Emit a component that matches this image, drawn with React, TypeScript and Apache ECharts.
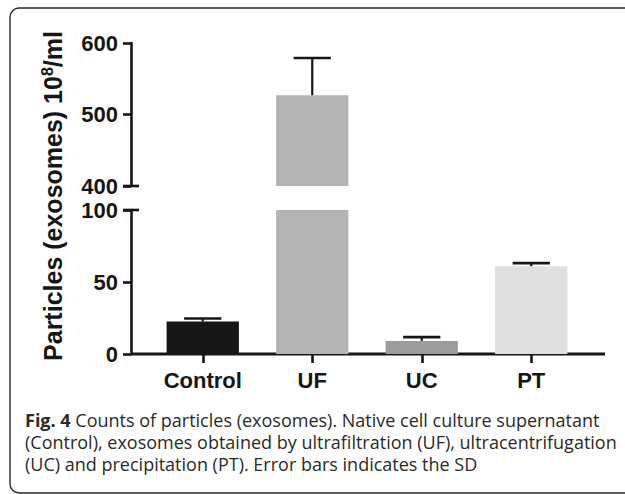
import { useEffect, useRef } from 'react';
import * as echarts from 'echarts';

// ---- data ----
const categories = ['Control', 'UF', 'UC', 'PT'];
const means = [22.6, 527, 9.1, 61];
const sds = [2.1, 52, 2.6, 2.1];
const barColors = ['#161616', '#b4b4b4', '#9b9b9b', '#dfdfdf'];
const upperRange = [400, 600];
const upperInterval = 100;
const lowerRange = [0, 100];
const lowerInterval = 50;
const yTitleMain = 'Particles (exosomes) 10';
const yTitleSup = '8';
const yTitleTail = '/ml';
const captionBold = 'Fig. 4';
const captionLine1 = ' Counts of particles (exosomes). Native cell culture supernatant';
const captionLine2 = '(Control), exosomes obtained by ultrafiltration (UF), ultracentrifugation';
const captionLine3 = '(UC) and precipitation (PT). Error bars indicates the SD';

// ---- layout ----
const W = 625;
const H = 494;
const GRID_LEFT = 148;
const GRID_W = 438;
const UP_TOP = 43;
const UP_H = 143;
const LO_TOP = 210;
const LO_H = 144;
const AXIS_X = 131;
const INK = '#161616';
const FONT = 'Liberation Sans';

export default function App() {
  const ref = useRef<HTMLDivElement>(null);
  useEffect(() => {
    if (!ref.current) return;
    const chart = echarts.init(ref.current, undefined, { renderer: 'svg' });

    const upperIdx = means.map((m) => m > lowerRange[1]);
    const upperBars = means.map((m, i) => (upperIdx[i] ? m : '-'));
    const lowerBars = means.slice();
    const errUpper = means
      .map((m, i) => [i, m, m + sds[i]])
      .filter((_, i) => upperIdx[i]);
    const errLower = means
      .map((m, i) => [i, m, m + sds[i]])
      .filter((_, i) => !upperIdx[i]);

    const renderErr = (params: any, api: any) => {
      const x = api.value(0);
      const p0 = api.coord([x, api.value(1)]);
      const p1 = api.coord([x, api.value(2)]);
      const band = api.size([1, 0])[0];
      const half = band * 0.17;
      return {
        type: 'group',
        children: [
          {
            type: 'line',
            shape: { x1: p0[0], y1: p0[1], x2: p1[0], y2: p1[1] },
            style: { stroke: INK, lineWidth: 2.2 },
          },
          {
            type: 'line',
            shape: { x1: p1[0] - half, y1: p1[1], x2: p1[0] + half, y2: p1[1] },
            style: { stroke: INK, lineWidth: 2.6 },
          },
        ],
      };
    };

    const yAxisCommon = {
      type: 'value',
      offset: GRID_LEFT - AXIS_X,
      splitLine: { show: false },
      axisLine: { show: true, lineStyle: { color: INK, width: 2.6 } },
      axisTick: { show: true, length: 8, lineStyle: { color: INK, width: 2.6 } },
      axisLabel: {
        margin: 13,
        color: INK,
        fontFamily: FONT,
        fontWeight: 'bold',
        fontSize: 22,
      },
    };

    const upTickY = UP_TOP + UP_H;
    const loTickY = LO_TOP;

    chart.setOption({
      animation: false,
      grid: [
        { left: GRID_LEFT, top: UP_TOP, width: GRID_W, height: UP_H },
        { left: GRID_LEFT, top: LO_TOP, width: GRID_W, height: LO_H },
      ],
      xAxis: [
        { type: 'category', gridIndex: 0, data: categories, show: false },
        {
          type: 'category',
          gridIndex: 1,
          data: categories,
          axisLine: { show: false },
          axisTick: {
            show: true,
            alignWithLabel: true,
            length: 9,
            lineStyle: { color: INK, width: 2.6 },
          },
          axisLabel: {
            margin: 15,
            color: INK,
            fontFamily: FONT,
            fontWeight: 'bold',
            fontSize: 22,
          },
        },
      ],
      yAxis: [
        { ...yAxisCommon, gridIndex: 0, min: upperRange[0], max: upperRange[1], interval: upperInterval },
        { ...yAxisCommon, gridIndex: 1, min: lowerRange[0], max: lowerRange[1], interval: lowerInterval },
      ],
      series: [
        {
          type: 'bar',
          xAxisIndex: 0,
          yAxisIndex: 0,
          data: upperBars.map((v, i) => ({ value: v, itemStyle: { color: barColors[i] } })),
          barWidth: '66%',
          clip: true,
        },
        {
          type: 'bar',
          xAxisIndex: 1,
          yAxisIndex: 1,
          data: lowerBars.map((v, i) => ({ value: v, itemStyle: { color: barColors[i] } })),
          barWidth: '66%',
          clip: true,
        },
        {
          type: 'custom',
          xAxisIndex: 0,
          yAxisIndex: 0,
          data: errUpper,
          renderItem: renderErr,
          z: 5,
        },
        {
          type: 'custom',
          xAxisIndex: 1,
          yAxisIndex: 1,
          data: errLower,
          renderItem: renderErr,
          z: 5,
        },
      ],
      graphic: [
        {
          type: 'rect',
          shape: { x: 10, y: 8, width: 700, height: 485, r: 9 },
          style: { fill: 'none', stroke: '#2a2a2a', lineWidth: 1.4 },
          silent: true,
        },
        {
          type: 'line',
          shape: { x1: AXIS_X, y1: LO_TOP + LO_H, x2: 605, y2: LO_TOP + LO_H },
          style: { stroke: INK, lineWidth: 3 },
        },
        {
          type: 'line',
          shape: { x1: AXIS_X - 8, y1: upTickY, x2: AXIS_X + 8, y2: upTickY },
          style: { stroke: INK, lineWidth: 2.6 },
        },
        {
          type: 'line',
          shape: { x1: AXIS_X - 8, y1: loTickY, x2: AXIS_X + 8, y2: loTickY },
          style: { stroke: INK, lineWidth: 2.6 },
        },
        {
          type: 'text',
          x: 53,
          y: 196,
          rotation: Math.PI / 2,
          style: {
            text: `{b|${yTitleMain}}{s|${yTitleSup}}{b|${yTitleTail}}`,
            align: 'center',
            verticalAlign: 'middle',
            rich: {
              b: { fontFamily: FONT, fontWeight: 'bold', fontSize: 25, fill: INK, lineHeight: 28 },
              s: {
                fontFamily: FONT,
                fontWeight: 'bold',
                fontSize: 16,
                fill: INK,
                lineHeight: 28,
                verticalAlign: 'top',
              },
            },
          },
        },
        {
          type: 'text',
          x: 25,
          y: 409,
          style: {
            text: `{fb|${captionBold}}{f|${captionLine1}}\n{f|${captionLine2}}\n{f|${captionLine3}}`,
            align: 'left',
            verticalAlign: 'top',
            rich: {
              fb: { fontFamily: 'Open Sans', fontWeight: 'bold', fontSize: 18, fill: '#2b2b2b', lineHeight: 22 },
              f: { fontFamily: 'Open Sans', fontSize: 18, fill: '#2b2b2b', lineHeight: 22 },
            },
          },
        },
      ],
    });
    return () => chart.dispose();
  }, []);
  return (
    <div
      ref={ref}
      style={{ position: 'fixed', left: 0, top: 0, width: W, height: H, background: '#fff' }}
    />
  );
}
